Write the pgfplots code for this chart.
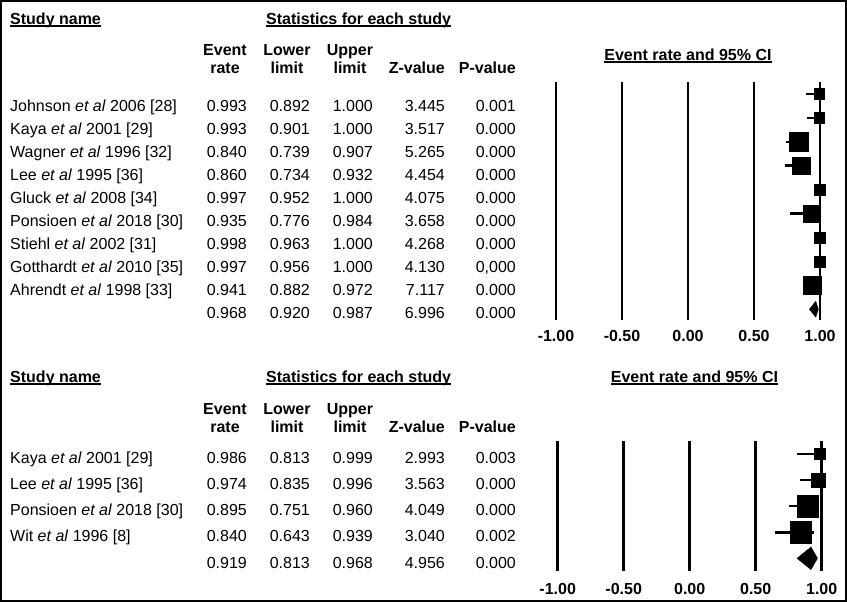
\documentclass[border=0pt]{standalone}
\usepackage{pgfplots}
\pgfplotsset{compat=1.18}
\usepackage{pgfplotstable}
\usepackage{fontspec}
\setmainfont{Liberation Sans}

% row, event rate, lower, upper, square side (px)
\pgfplotstableread{
row er    lo    hi    w
1   0.993 0.892 1.000 11
2   0.993 0.901 1.000 11
3   0.840 0.739 0.907 19
4   0.860 0.734 0.932 18.3
5   0.997 0.952 1.000 11.7
6   0.935 0.776 0.984 17
7   0.998 0.963 1.000 11.7
8   0.997 0.956 1.000 11.7
9   0.941 0.882 0.972 18.3
}\topstudies
\pgfplotstableread{
row er    lo    hi    w
1   0.986 0.813 0.999 11.2
2   0.974 0.835 0.996 15
3   0.895 0.751 0.960 21.7
4   0.840 0.643 0.939 22
}\botstudies

\newcommand\ul[1]{\setbox0\hbox{#1}\rlap{\rule[-2.7bp]{\wd0}{1.4bp}}\box0}
\newcommand\etal{\textit{et al}}
\newcommand\statrow[7]{%
  \node[anchor=base west] at (10,#1) {#2};
  \node[anchor=base east] at (247,#1) {#3};
  \node[anchor=base east] at (310,#1) {#4};
  \node[anchor=base east] at (373,#1) {#5};
  \node[anchor=base east] at (445,#1) {#6};
  \node[anchor=base east] at (516,#1) {#7};}
\newcommand\heads[3]{%
  \node[anchor=base west] at (10,#1) {\bfseries\ul{Study name}};
  \node[anchor=base west] at (266,#1) {\bfseries\ul{Statistics for each study}};
  \node[anchor=base] at (225,#2) {\bfseries Event};
  \node[anchor=base] at (287,#2) {\bfseries Lower};
  \node[anchor=base] at (350,#2) {\bfseries Upper};
  \node[anchor=base] at (225,#3) {\bfseries rate};
  \node[anchor=base] at (287,#3) {\bfseries limit};
  \node[anchor=base] at (350,#3) {\bfseries limit};
  \node[anchor=base east] at (445,#3) {\bfseries Z-value};
  \node[anchor=base east] at (516,#3) {\bfseries P-value};}

\pgfplotsset{
  forest/.style={
    scale only axis, width=264bp, xmin=-1, xmax=1, ymax=-0.5,
    axis line style={draw=none}, tick style={draw=none},
    ytick=\empty, xtick={-1,-0.5,0,0.5,1},
    xticklabels={-1.00,-0.50,0.00,0.50,1.00},
    xmajorgrids, grid style={black, line width=2.5bp},
    xticklabel style={font=\fontsize{16bp}{19bp}\selectfont\bfseries, anchor=base},
    clip=false,
  },
  studies/.style={
    scatter, only marks, mark=square*,
    scatter/use mapped color={draw=black, fill=black},
    visualization depends on={\thisrow{w}/2-0.2 \as \halfw},
    scatter/@pre marker code/.append style={/tikz/mark size=\halfw},
    error bars/x dir=both, error bars/x explicit,
    error bars/error mark=none,
    error bars/error bar style={line width=2.5bp, black},
  },
}

\begin{document}
\begin{tikzpicture}
\begin{scope}[x=1bp, y=-1bp, every node/.style={inner sep=0pt, font=\fontsize{16bp}{19bp}\selectfont}]
  \draw[line width=1.5bp] (1,1) rectangle (846,601);
  % top panel
  \heads{24}{55}{73.5}
  \node[anchor=base] at (688,60) {\bfseries\ul{Event rate and 95\% CI}};
  \statrow{111.0}{Johnson \etal{} 2006 [28]}{0.993}{0.892}{1.000}{3.445}{0.001}
  \statrow{134.0}{Kaya \etal{} 2001 [29]}{0.993}{0.901}{1.000}{3.517}{0.000}
  \statrow{157.1}{Wagner \etal{} 1996 [32]}{0.840}{0.739}{0.907}{5.265}{0.000}
  \statrow{180.1}{Lee \etal{} 1995 [36]}{0.860}{0.734}{0.932}{4.454}{0.000}
  \statrow{203.1}{Gluck \etal{} 2008 [34]}{0.997}{0.952}{1.000}{4.075}{0.000}
  \statrow{226.2}{Ponsioen \etal{} 2018 [30]}{0.935}{0.776}{0.984}{3.658}{0.000}
  \statrow{249.2}{Stiehl \etal{} 2002 [31]}{0.998}{0.963}{1.000}{4.268}{0.000}
  \statrow{272.2}{Gotthardt \etal{} 2010 [35]}{0.997}{0.956}{1.000}{4.130}{0,000}
  \statrow{295.2}{Ahrendt \etal{} 1998 [33]}{0.941}{0.882}{0.972}{7.117}{0.000}
  \statrow{318.3}{}{0.968}{0.920}{0.987}{6.996}{0.000}
  % bottom panel
  \heads{382}{414}{432}
  \node[anchor=base] at (694.5,382) {\bfseries\ul{Event rate and 95\% CI}};
  \statrow{463.0}{Kaya \etal{} 2001 [29]}{0.986}{0.813}{0.999}{2.993}{0.003}
  \statrow{489.3}{Lee \etal{} 1995 [36]}{0.974}{0.835}{0.996}{3.563}{0.000}
  \statrow{515.6}{Ponsioen \etal{} 2018 [30]}{0.895}{0.751}{0.960}{4.049}{0.000}
  \statrow{541.9}{Wit \etal{} 1996 [8]}{0.840}{0.643}{0.939}{3.040}{0.002}
  \statrow{568.2}{}{0.919}{0.813}{0.968}{4.956}{0.000}
\end{scope}

\begin{axis}[forest, at={(556bp,-320bp)}, anchor=south west,
    height=238bp, ymin=-10.45, xticklabel style={yshift=-21.4bp}]
  \addplot[studies] table[x=er, y expr=-\thisrow{row},
    x error plus expr=\thisrow{hi}-\thisrow{er},
    x error minus expr=\thisrow{er}-\thisrow{lo}] {\topstudies};
  \addplot[fill=black, draw=black] coordinates
    {(0.920,-10) (0.968,-9.666) (0.987,-10) (0.968,-10.334)} -- cycle;
\end{axis}

\begin{axis}[forest, at={(557.7bp,-570.7bp)}, anchor=south west,
    height=129.7bp, ymin=-5.475, xticklabel style={yshift=-23.3bp}]
  \addplot[studies] table[x=er, y expr=-\thisrow{row},
    x error plus expr=\thisrow{hi}-\thisrow{er},
    x error minus expr=\thisrow{er}-\thisrow{lo}] {\botstudies};
  \addplot[fill=black, draw=black] coordinates
    {(0.813,-5) (0.919,-4.565) (0.968,-5) (0.919,-5.435)} -- cycle;
\end{axis}

\pgfresetboundingbox
\path[use as bounding box] (0bp,0bp) rectangle (847bp,-603bp);
\end{tikzpicture}
\end{document}
